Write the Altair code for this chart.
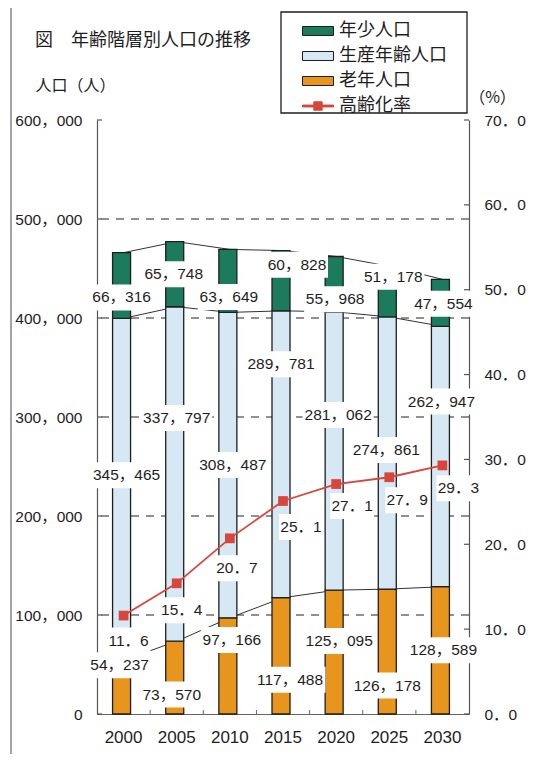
import altair as alt
import pandas as pd

# ---------------- data ----------------
years = ["2000", "2005", "2010", "2015", "2020", "2025", "2030"]
youth = [66316, 65748, 63649, 60828, 55968, 51178, 47554]
working = [345465, 337797, 308487, 289781, 281062, 274861, 262947]
elderly = [54237, 73570, 97166, 117488, 125095, 126178, 128589]
rate = [11.6, 15.4, 20.7, 25.1, 27.1, 27.9, 29.3]

series_names = ["年少人口", "生産年齢人口", "老年人口", "高齢化率"]
pop_ticks = [0, 100000, 200000, 300000, 400000, 500000, 600000]
grid_values = [100000, 200000, 300000, 400000, 500000]
rate_ticks = [0, 10, 20, 30, 40, 50, 60, 70]

# label placement offsets in pixels (relative to segment middle / marker)
youth_dx = [-2, -3, -1, 14, -1, 4, 1]
youth_dy = [12, 0, 16, -16, 15, -15, 1]
work_dx = [3, 0, 3, -2, 2, -3, -1]
work_dy = [-14, -56, 0, -90, -36, -3, -55]
old_dx = [-4, -5, 2, 7, 3, -2, 1]
old_dy = [-22, 17, -26, 24, -11, 34, 0]
rate_dx = [5, 5, 7, 18, 16, 18, 16]
rate_dy = [25, 27, 30, 26, 22, 23, 23]

# ---------------- style ----------------
W, H = 372, 594
POP_MAX, RATE_MAX = 600000, 70
YOUTH_C, WORK_C, OLD_C, RED = "#1c7b5c", "#d6e8f4", "#e8951e", "#d8453b"
INK = "#1e1e1e"
NUM = "'Liberation Sans', 'Noto Sans CJK JP', sans-serif"
CJK = "'Noto Sans CJK JP', sans-serif"
LAB_FS = 15.5
HALF_BAND = 11

rect_path = "M-1,-0.29H1V0.29H-1Z"
line_path = "M-1,-0.06H-0.27V-0.27H0.27V-0.06H1V0.06H0.27V0.27H-0.27V0.06H-1Z"

pop_per_px = POP_MAX / H
rate_per_px = RATE_MAX / H

# ---------------- tables ----------------
bar_rows, conn_rows, lab_rows, rate_rows = [], [], [], []
for i, yr in enumerate(years):
    o, w, yo = elderly[i], working[i], youth[i]
    bar_rows += [
        dict(year=yr, series="老年人口", y0=0, y1=o),
        dict(year=yr, series="生産年齢人口", y0=o, y1=o + w),
        dict(year=yr, series="年少人口", y0=o + w, y1=o + w + yo),
    ]
    conn_rows += [
        dict(year=yr, level="old", value=o),
        dict(year=yr, level="work", value=o + w),
        dict(year=yr, level="total", value=o + w + yo),
    ]
    for v, mid, dx, dy in [
        (yo, o + w + yo / 2, youth_dx[i], youth_dy[i]),
        (w, o + w / 2, work_dx[i], work_dy[i]),
        (o, o / 2, old_dx[i], old_dy[i]),
    ]:
        lab_rows.append(dict(year=yr, pos=mid - dy * pop_per_px, dx=dx,
                             text=f"{v:,}".replace(",", "，"), nd=len(str(v))))
    rate_rows.append(dict(year=yr, rate=rate[i], pos=rate[i] - rate_dy[i] * rate_per_px,
                          dx=rate_dx[i], text=f"{rate[i]:.1f}".replace(".", "．"), nd=3))

df_bars = pd.DataFrame(bar_rows)
df_conn = pd.DataFrame(conn_rows)
df_lab = pd.DataFrame(lab_rows)
df_rate = pd.DataFrame(rate_rows)
df_series = pd.DataFrame({"series": series_names, "v": [0, 0, 0, 0]})
df_grid = pd.DataFrame({"g": grid_values})
df_pt = pd.DataFrame({"t": pop_ticks})
df_rt = pd.DataFrame({"t": rate_ticks})
df_xt = pd.DataFrame({"year": years[:-1]})
df_one = pd.DataFrame({"k": [0]})

# ---------------- scales / axes ----------------
x_scale = alt.Scale(domain=years, paddingInner=0.586, paddingOuter=0.293)
pop_scale = alt.Scale(domain=[0, POP_MAX], nice=False, zero=True)
rate_scale = alt.Scale(domain=[0, RATE_MAX], nice=False, zero=True)
off_scale = alt.Scale(domain=[-100, 100], range=[-100 + HALF_BAND, 100 + HALF_BAND],
                      zero=False, nice=False)

x_axis = alt.Axis(labelAngle=0, labelFont=NUM, labelFontSize=17, labelColor=INK,
                  labelPadding=15, ticks=False, grid=False, domainColor="#666",
                  domainWidth=1.2, title=None)
left_axis = alt.Axis(values=pop_ticks,
                     labelExpr="replace(format(datum.value, ','), ',', '，')",
                     labelFont=NUM, labelFontSize=LAB_FS, labelColor=INK, labelPadding=15,
                     ticks=False, grid=False, domainColor="#555", domainWidth=1.2,
                     title="人口（人）", titleAngle=0, titleX=-62, titleY=-35,
                     titleAlign="left", titleBaseline="middle", titleFont=CJK,
                     titleFontSize=16, titleFontWeight="normal", titleColor=INK)
right_axis = alt.Axis(orient="right", values=rate_ticks,
                      labelExpr="replace(format(datum.value, '.1f'), '.', '．')",
                      labelFont=NUM, labelFontSize=LAB_FS, labelColor=INK, labelPadding=15,
                      ticks=False, grid=False, domainColor="#555", domainWidth=1.2,
                      title="（%）", titleAngle=0, titleX=23, titleY=-23,
                      titleAlign="center", titleBaseline="middle", titleFont=CJK,
                      titleFontSize=16, titleFontWeight="normal", titleColor=INK)


def X():
    return alt.X("year:N", scale=x_scale, axis=x_axis, title=None)


def YP(field):
    return alt.Y(f"{field}:Q", scale=pop_scale, axis=left_axis, title="人口（人）")


def YR(field):
    return alt.Y(f"{field}:Q", scale=rate_scale, axis=right_axis, title="（%）")


legend = alt.Legend(title=None, orient="none", legendX=205, legendY=-105, padding=0,
                    symbolSize=961, labelFont=CJK, labelFontSize=18, labelColor=INK,
                    labelOffset=5, rowPadding=0, symbolStrokeWidth=1, symbolOpacity=1)
color_scale = alt.Scale(domain=series_names, range=[YOUTH_C, WORK_C, OLD_C, RED])
stroke_scale = alt.Scale(domain=series_names, range=[INK, INK, INK, RED])
shape_scale = alt.Scale(domain=series_names, range=[rect_path, rect_path, rect_path, line_path])

# ---------------- left (population) layers ----------------
frame_v = alt.Chart(df_one).mark_rule(color="#666", strokeWidth=1.2).encode(
    x=alt.value(-86), y=alt.value(-114), y2=alt.value(H + 60))
frame_h = alt.Chart(df_one).mark_rule(color="#666", strokeWidth=1.2).encode(
    x=alt.value(-86), x2=alt.value(W + 80), y=alt.value(-114))
legend_box = alt.Chart(df_one).mark_rect(fill="white", stroke=INK, strokeWidth=1.3).encode(
    x=alt.value(184), x2=alt.value(370), y=alt.value(-108), y2=alt.value(-7))

grid = alt.Chart(df_grid).mark_rule(color="#222", strokeWidth=1, strokeDash=[8, 7]).encode(
    y=YP("g"))

conn = alt.Chart(df_conn).mark_line(color="#333", strokeWidth=1).encode(
    x=X(), y=YP("value"), detail="level:N")

bars = alt.Chart(df_bars).mark_bar(strokeWidth=1.3, opacity=1).encode(
    x=X(),
    y=YP("y0"),
    y2="y1:Q",
    color=alt.Color("series:N", scale=color_scale, legend=legend),
    stroke=alt.Stroke("series:N", scale=stroke_scale, legend=legend),
)

legend_layer = alt.Chart(df_series).transform_filter("false").mark_point(
    filled=True, opacity=1).encode(
    x=X(), y=YP("v"),
    color=alt.Color("series:N", scale=color_scale, legend=legend),
    stroke=alt.Stroke("series:N", scale=stroke_scale, legend=legend),
    shape=alt.Shape("series:N", scale=shape_scale, legend=legend),
)


def box_layer(df, yenc, nd, width):
    h = 13.0 / (width / 2.0)
    path = f"M-1,-{h:.3f}H1V{h:.3f}H-1Z"
    return alt.Chart(df).transform_filter(f"datum.nd == {nd}").mark_point(
        shape=path, size=width * width, filled=True, fill="white", opacity=1,
        strokeWidth=0).encode(
        x=X(), y=yenc, xOffset=alt.XOffset("dx:Q", scale=off_scale))


def text_layer(df, yenc):
    return alt.Chart(df).mark_text(font=NUM, fontSize=LAB_FS, color=INK, align="center",
                                   baseline="middle").encode(
        x=X(), y=yenc, xOffset=alt.XOffset("dx:Q", scale=off_scale), text="text:N")


boxes5 = box_layer(df_lab, YP("pos"), 5, 62)
boxes6 = box_layer(df_lab, YP("pos"), 6, 71)
labels = text_layer(df_lab, YP("pos"))

left_ticks = alt.Chart(df_pt).mark_rule(color="#555", strokeWidth=1.2).encode(
    x=alt.value(0), x2=alt.value(5), y=YP("t"))
x_ticks = alt.Chart(df_xt).mark_rule(color="#666", strokeWidth=1, xOffset=26.6).encode(
    x=X(), y=alt.value(H), y2=alt.value(H - 4))

left = alt.layer(frame_v, frame_h, legend_box, grid, conn, bars, legend_layer,
                 boxes5, boxes6, labels, left_ticks, x_ticks)

# ---------------- right (rate) layers ----------------
rline = alt.Chart(df_rate).mark_line(color=RED, strokeWidth=1.8).encode(
    x=X(), y=YR("rate"))
rpts = alt.Chart(df_rate).mark_point(shape="square", filled=True, size=95, color=RED,
                                     opacity=1).encode(
    x=X(), y=YR("rate"))
rboxes = box_layer(df_rate, YR("pos"), 3, 44)
rlabels = text_layer(df_rate, YR("pos"))
right_ticks = alt.Chart(df_rt).mark_rule(color="#555", strokeWidth=1.2).encode(
    x=alt.value(W - 5), x2=alt.value(W), y=YR("t"))

right = alt.layer(rline, rpts, rboxes, rlabels, right_ticks)

chart = alt.layer(left, right).resolve_scale(y="independent").properties(
    width=W, height=H,
    background="white",
    autosize=alt.AutoSizeParams(type="none"),
    padding={"left": 89, "top": 112, "right": 60, "bottom": 40},
    title=alt.Title("図　年齢階層別人口の推移", anchor="start", frame="group", dx=-62,
                    offset=-54, baseline="middle", font=CJK, fontSize=18,
                    fontWeight="normal", color=INK),
).configure_view(stroke="transparent")

chart.save("out.html", embed_options={"renderer": "svg", "actions": False})
